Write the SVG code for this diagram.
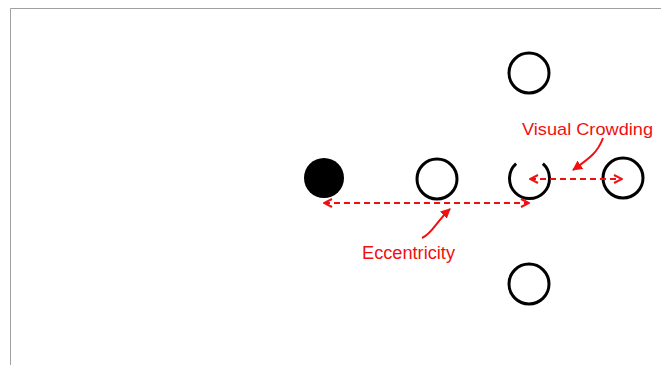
<svg xmlns="http://www.w3.org/2000/svg" width="661" height="365" viewBox="0 0 661 365">
<defs>
<style>
.ring{fill:none;stroke:#000;stroke-width:3}
.dash{fill:none;stroke:#f01010;stroke-width:2;stroke-dasharray:6,4}
.curve{fill:none;stroke:#f01010;stroke-width:2}
.lbl{font-family:"Liberation Sans",Arial,sans-serif;fill:#f01010}
</style>
<marker id="open" viewBox="0 0 10 10" refX="9" refY="5" markerWidth="10" markerHeight="10" markerUnits="userSpaceOnUse" orient="auto-start-reverse">
<path d="M1,1 L9,5 L1,9" fill="none" stroke="#f01010" stroke-width="2"/>
</marker>
<marker id="solid" viewBox="0 0 10 10" refX="9" refY="5" markerWidth="10" markerHeight="10" markerUnits="userSpaceOnUse" orient="auto">
<path d="M0,0 L10,5 L0,10 Z" fill="#f01010"/>
</marker>
</defs>
<rect width="661" height="365" fill="#fff"/>
<path d="M10.5,365 V8.5 H661" fill="none" stroke="#a0a0a0" stroke-width="1"/>
<g id="target"><circle cx="324" cy="178" r="20" fill="#000"/></g>
<g id="flanker-near"><circle class="ring" cx="437" cy="179" r="20"/></g>
<g id="gap-target"><path class="ring" d="M542.9,163.7 A20,20 0 1 1 516.1,163.7"/></g>
<g id="flanker-top"><circle class="ring" cx="529" cy="73" r="20"/></g>
<g id="flanker-bottom"><circle class="ring" cx="529" cy="284" r="20"/></g>
<g id="flanker-right"><circle class="ring" cx="623" cy="178" r="20"/></g>
<g id="connectors">
<line class="dash" x1="324" y1="203" x2="529" y2="203" marker-start="url(#open)" marker-end="url(#open)"/>
<line class="dash" x1="530" y1="179" x2="622" y2="179" marker-start="url(#open)" marker-end="url(#open)"/>
<path class="curve" d="M603,138 C598,152 590,158 573,170" marker-end="url(#solid)"/>
<path class="curve" d="M422,238 C432,234 436,222 450,209" marker-end="url(#solid)"/>
</g>
<g id="labels">
<text class="lbl" x="522" y="135" font-size="17" textLength="131" lengthAdjust="spacingAndGlyphs">Visual Crowding</text>
<text class="lbl" x="362" y="259" font-size="18" textLength="93" lengthAdjust="spacingAndGlyphs">Eccentricity</text>
</g>
</svg>
